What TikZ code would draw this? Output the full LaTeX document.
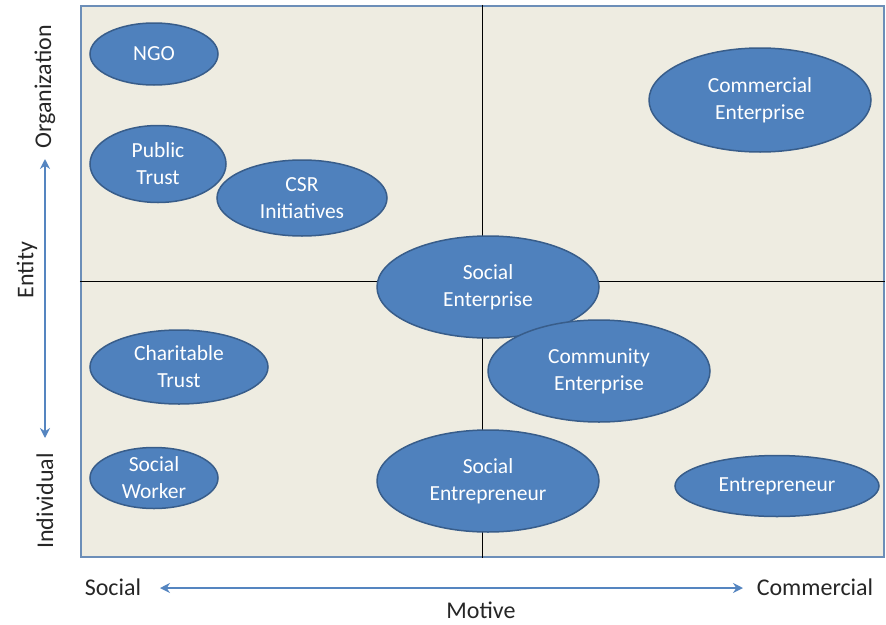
\documentclass[tikz,border=0pt]{standalone}
\usepackage{fontspec}
\setmainfont{Carlito}
\usetikzlibrary{shapes.geometric,arrows.meta}
\definecolor{bluefill}{HTML}{4F81BD}
\definecolor{blueedge}{HTML}{385D8A}
\definecolor{paper}{HTML}{EEECE1}
\definecolor{framec}{HTML}{6C8EB8}
\definecolor{arrowc}{HTML}{5585C0}
\begin{document}
\begin{tikzpicture}[x=1pt,y=-1pt,
  bubble/.style={ellipse,fill=bluefill,draw=blueedge,line width=1.5pt,inner sep=0pt,
    text=white,align=center,font=\fontsize{21.5}{27}\selectfont},
  axislabel/.style={font=\fontsize{24}{28}\selectfont,text=black!85,inner sep=0pt},
  axisarrow/.style={arrowc,line width=2.4pt,{Stealth[length=10pt,width=10pt]}-{Stealth[length=10pt,width=10pt]}}]
\useasboundingbox (0,0) rectangle (886,624);
% frame
\node[draw=framec,line width=2.2pt,fill=paper,minimum width=803pt,minimum height=551pt,inner sep=0pt] (frame) at (482.5,281.5) {};
\draw[black,line width=0.9pt] (frame.north) -- (frame.south);
\draw[black,line width=0.9pt] (frame.west) -- (frame.east);
% bubbles
\node[bubble,minimum width=128pt,minimum height=62pt] (ngo) at (154,54) {NGO};
\node[bubble,minimum width=136pt,minimum height=77pt] (pt) at (158,164) {Public\\Trust};
\node[bubble,minimum width=170pt,minimum height=76pt] (csr) at (302,198) {CSR\\Initiatives};
\node[bubble,minimum width=222pt,minimum height=104pt] (ce) at (760,100) {Commercial\\Enterprise};
\node[bubble,minimum width=222pt,minimum height=102pt] (se) at (488,287) {Social\\Enterprise};
\node[bubble,minimum width=178pt,minimum height=74pt] (ct) at (179,367) {Charitable\\Trust};
\node[bubble,minimum width=222pt,minimum height=102pt] (come) at (599,371) {Community\\Enterprise};
\node[bubble,minimum width=128pt,minimum height=61pt] (sw) at (154,478) {Social\\Worker};
\node[bubble,minimum width=222pt,minimum height=102pt] (sent) at (488,481) {Social\\Entrepreneur};
\node[bubble,minimum width=204pt,minimum height=61pt] (ent) at (777,486) {Entrepreneur};
% axes
\coordinate (vtop) at (45,159);
\coordinate (vbot) at (45,438);
\draw[axisarrow] (vtop) -- (vbot);
\node[axislabel,rotate=90] (org) at (45,87) {Organization};
\node[axislabel,rotate=90] (entity) at (27,270) {Entity};
\node[axislabel,rotate=90] (indiv) at (45,501) {Individual};
\coordinate (hl) at (160,588);
\coordinate (hr) at (743,588);
\draw[axisarrow] (hl) -- (hr);
\node[axislabel] (soc) at (113,587) {Social};
\node[axislabel] (com) at (815,587) {Commercial};
\node[axislabel] (mot) at (481,610) {Motive};
\end{tikzpicture}
\end{document}
